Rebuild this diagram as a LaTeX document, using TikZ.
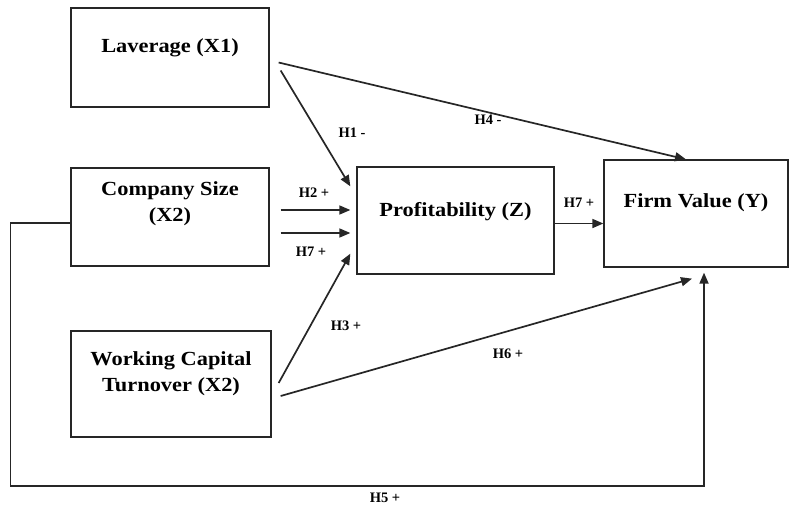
\documentclass[tikz,border=0pt]{standalone}
\usepackage{fontspec}
\setmainfont{Liberation Serif}
\newfontfamily\boxfont[FakeStretch=1.12]{Liberation Serif}
\usetikzlibrary{arrows.meta,calc}
\begin{document}
\begin{tikzpicture}[x=1pt,y=-1pt,
  box/.style={draw=black!85,line width=1.3pt,rectangle,inner sep=0pt},
  boxtext/.style={font=\boxfont\fontsize{20}{26}\selectfont\bfseries,align=center},
  lab/.style={font=\fontsize{14.5}{16}\selectfont\bfseries,inner sep=0pt},
  conn/.style={draw=black!85,line width=1.7pt},
  arr/.style={conn,-{Triangle[length=11pt,width=9pt]}}]
\useasboundingbox (0,0) rectangle (790,506);
% boxes
\node[box,minimum width=198pt,minimum height=99pt] (lev) at (170,57.5) {};
\node[box,minimum width=198pt,minimum height=98pt] (cs) at (170,217) {};
\node[box,minimum width=200pt,minimum height=106pt] (wc) at (171,384) {};
\node[box,minimum width=197pt,minimum height=107pt] (prof) at (455.5,220.5) {};
\node[box,minimum width=184pt,minimum height=107pt] (fv) at (696,213.5) {};
% box texts
\node[boxtext] (levt) at (170,48) {Laverage (X1)};
\node[boxtext] (cst) at (170,204) {Company Size\\(X2)};
\node[boxtext] (wct) at (171,374) {Working Capital\\Turnover (X2)};
\node[boxtext] (proft) at (455.5,212) {Profitability (Z)};
\node[boxtext] (fvt) at (696,203) {Firm Value (Y)};
% connectors
\coordinate (h4s) at ([xshift=9pt,yshift=-5pt]lev.east);
\coordinate (h4e) at ([xshift=-10pt]fv.north);
\draw[arr] (h4s) -- (h4e);
\coordinate (h1s) at ([xshift=11pt,yshift=-13pt]lev.east);
\coordinate (h1e) at ([xshift=-6pt,yshift=-20pt]prof.north west);
\draw[arr] (h1s) -- (h1e);
\coordinate (h2s) at ([xshift=11pt,yshift=7pt]cs.east);
\coordinate (h2e) at ([xshift=-6pt,yshift=10.5pt]prof.west);
\draw[arr] (h2s) -- (h2e);
\coordinate (h7as) at ([xshift=11pt,yshift=-16pt]cs.east);
\coordinate (h7ae) at ([xshift=-6pt,yshift=-12.5pt]prof.west);
\draw[arr] (h7as) -- (h7ae);
\coordinate (h3s) at ([xshift=7pt,yshift=1pt]wc.east);
\coordinate (h3e) at ([xshift=-6pt,yshift=21pt]prof.south west);
\draw[arr] (h3s) -- (h3e);
\coordinate (h6s) at ([xshift=9pt,yshift=-12pt]wc.east);
\coordinate (h6e) at ([xshift=-4pt,yshift=-11pt]fv.south);
\draw[arr] (h6s) -- (h6e);
\draw[arr] ([yshift=-3pt]prof.east) -- ([yshift=-3pt]fv.west |- prof.east);
\coordinate (h5a) at ([xshift=-60pt,yshift=-6pt]cs.west);
\coordinate (h5b) at (h5a |- 0,486);
\coordinate (h5e) at ([xshift=8pt,yshift=-5pt]fv.south);
\coordinate (h5c) at (h5e |- h5b);
\draw[arr] ([yshift=-6pt]cs.west) -- (h5a) -- (h5b) -- (h5c) -- (h5e);
% labels
\node[lab] (l4) at (488,120) {H4 -};
\node[lab] (l1) at (352,133) {H1 -};
\node[lab] (l2) at (314,193) {H2 +};
\node[lab] (l7a) at (311,252) {H7 +};
\node[lab] (l3) at (346,326) {H3 +};
\node[lab] (l6) at (508,354) {H6 +};
\node[lab] (l7b) at (579,203) {H7 +};
\node[lab] (l5) at (385,498) {H5 +};
\end{tikzpicture}
\end{document}
